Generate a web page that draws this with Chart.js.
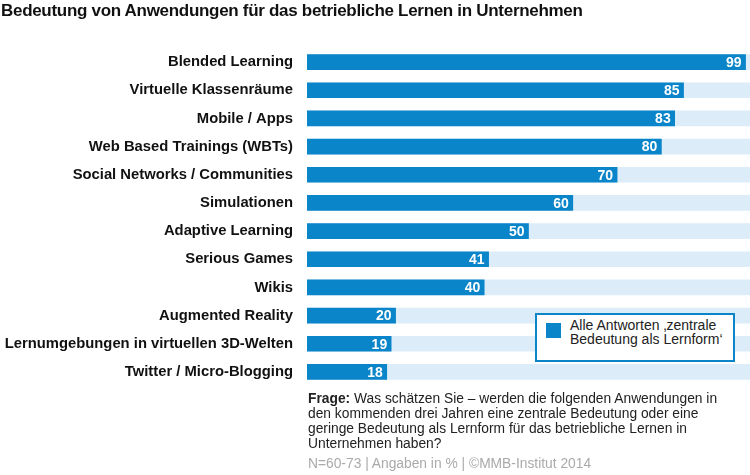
<!DOCTYPE html>
<html>
<head>
<meta charset="utf-8">
<script src="https://cdn.jsdelivr.net/npm/chart.js@4"></script>
<style>
html,body{margin:0;padding:0;background:#fff;}
#wrap{position:relative;width:750px;height:475px;overflow:hidden;font-family:"Liberation Sans",Arial,sans-serif;}
#c{position:absolute;left:0;top:0;}
#title{position:absolute;left:1px;top:1px;font-weight:bold;font-size:17px;color:#111;letter-spacing:-0.3px;white-space:nowrap;}
#legend{position:absolute;left:535px;top:313px;width:196px;height:45px;border:2px solid #0a85c9;background:#fff;}
#legend .sw{position:absolute;left:9px;top:8px;width:15px;height:15px;background:#0a85c9;}
#legend .tx{position:absolute;left:33px;top:3px;font-size:14px;line-height:14px;color:#222;}
#note{position:absolute;left:308px;top:391px;font-size:13.8px;line-height:15px;color:#222;white-space:nowrap;}
#src{position:absolute;left:308px;top:456px;font-size:13.8px;color:#aaa;white-space:nowrap;}
</style>
</head>
<body>
<div id="wrap">
<canvas id="c" width="750" height="475"></canvas>
<div id="title">Bedeutung von Anwendungen für das betriebliche Lernen in Unternehmen</div>
<div id="legend"><div class="sw"></div><div class="tx">Alle Antworten ‚zentrale<br>Bedeutung als Lernform‘</div></div>
<div id="note"><b>Frage:</b> Was schätzen Sie – werden die folgenden Anwendungen in<br>den kommenden drei Jahren eine zentrale Bedeutung oder eine<br>geringe Bedeutung als Lernform für das betriebliche Lernen in<br>Unternehmen haben?</div>
<div id="src">N=60-73 | Angaben in % | ©MMB-Institut 2014</div>
</div>
<script>
const categories = [
  "Blended Learning",
  "Virtuelle Klassenräume",
  "Mobile / Apps",
  "Web Based Trainings (WBTs)",
  "Social Networks / Communities",
  "Simulationen",
  "Adaptive Learning",
  "Serious Games",
  "Wikis",
  "Augmented Reality",
  "Lernumgebungen in virtuellen 3D-Welten",
  "Twitter / Micro-Blogging"
];
const values = [99, 85, 83, 80, 70, 60, 50, 41, 40, 20, 19, 18];
const fullScale = categories.map(() => 100);
const seriesLabel = "Alle Antworten ‚zentrale Bedeutung als Lernform‘";

const valueLabels = {
  id: 'valueLabels',
  afterDatasetsDraw(chart) {
    const ctx = chart.ctx;
    const meta = chart.getDatasetMeta(1);
    ctx.save();
    ctx.fillStyle = '#ffffff';
    ctx.font = 'bold 14px "Liberation Sans", Arial, sans-serif';
    ctx.textAlign = 'right';
    ctx.textBaseline = 'middle';
    meta.data.forEach((bar, i) => {
      ctx.fillText(String(values[i]), bar.x - 4, bar.y + 1);
    });
    ctx.restore();
  }
};

new Chart(document.getElementById('c'), {
  type: 'bar',
  data: {
    labels: categories,
    datasets: [
      { label: 'bg', data: fullScale, backgroundColor: '#dcedf9', barThickness: 15, grouped: false, order: 2 },
      { label: seriesLabel, data: values, backgroundColor: '#0a85c9', barThickness: 15, grouped: false, order: 1 }
    ]
  },
  options: {
    indexAxis: 'y',
    responsive: false,
    animation: false,
    events: [],
    layout: { padding: { left: 0, right: 0, top: 48, bottom: 89 } },
    plugins: { legend: { display: false }, title: { display: false }, tooltip: { enabled: false } },
    scales: {
      x: { min: 0, max: 100, display: false },
      y: {
        grid: { display: false, drawTicks: false },
        border: { display: false },
        ticks: {
          padding: 14,
          color: '#111',
          font: { family: '"Liberation Sans", Arial, sans-serif', size: 14.8, weight: 'bold' }
        },
        afterFit(scale) { scale.width = 307; }
      }
    }
  },
  plugins: [valueLabels]
});
</script>
</body>
</html>
